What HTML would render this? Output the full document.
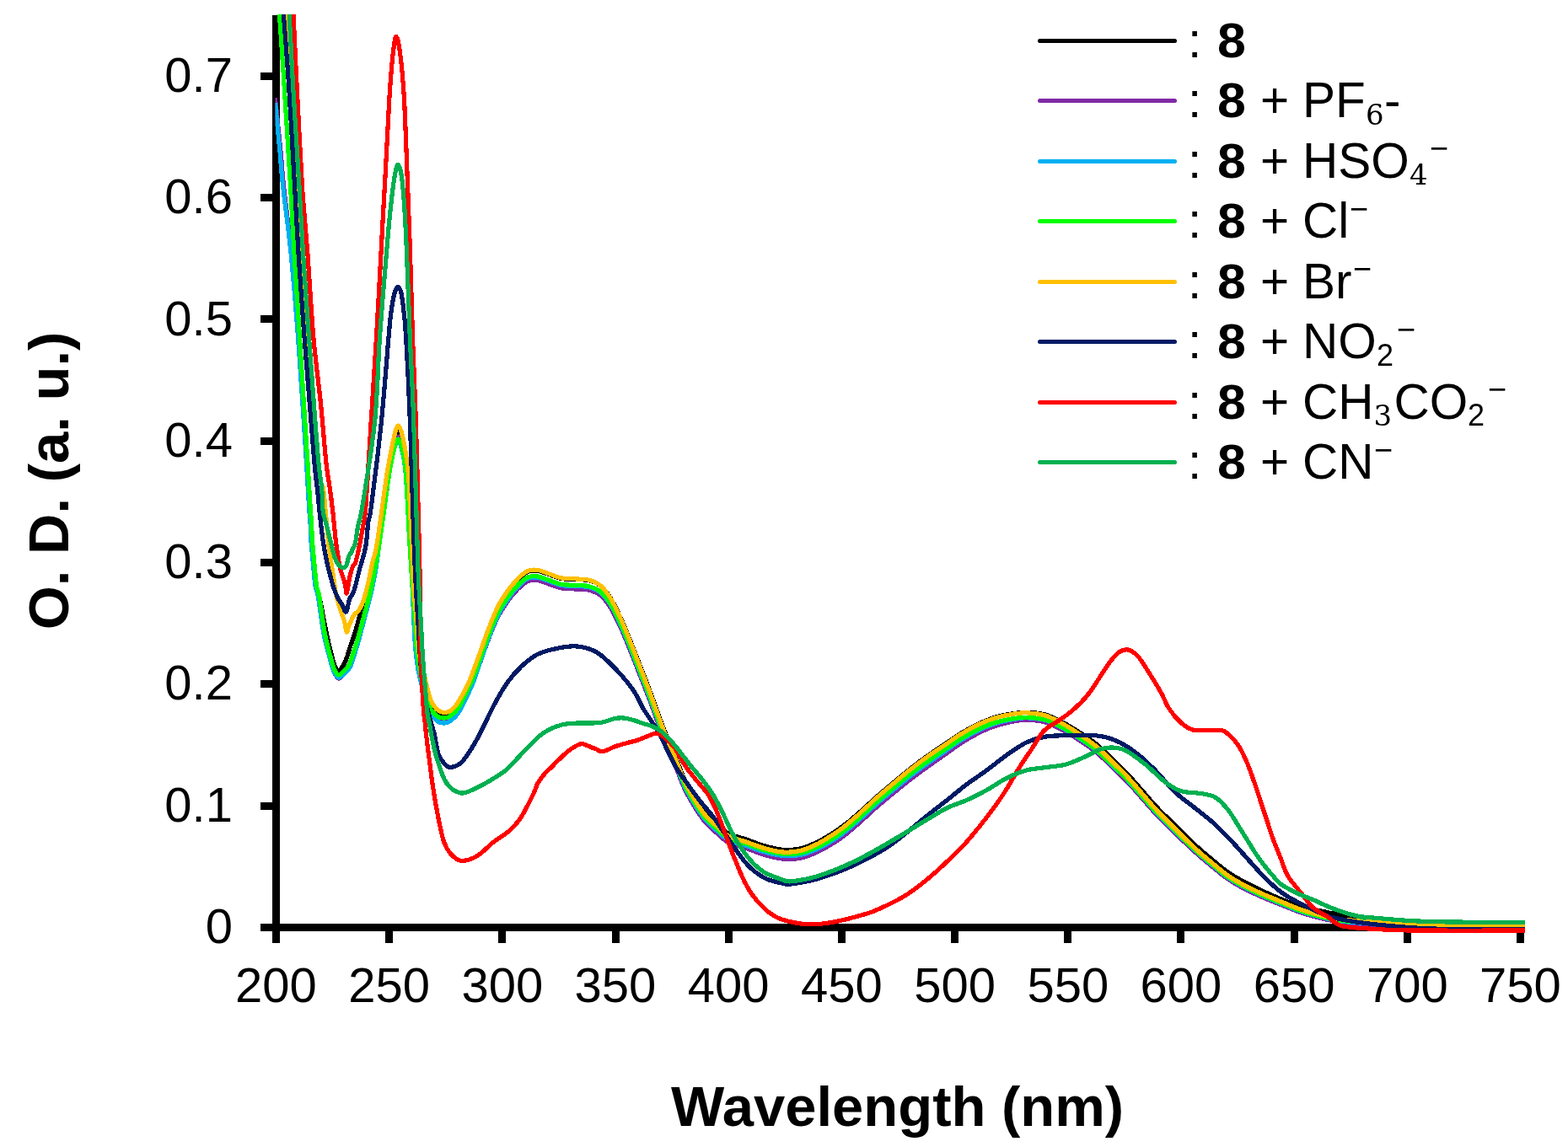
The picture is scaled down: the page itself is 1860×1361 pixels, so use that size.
<!DOCTYPE html>
<html><head><meta charset="utf-8"><title>UV-Vis spectra</title>
<style>html,body{margin:0;padding:0;background:#fff;}svg{display:block;}</style>
</head><body>
<svg width="1860" height="1361" viewBox="0 0 1860 1361">
<defs><clipPath id="plot"><rect x="326.5" y="17" width="1486" height="1110"/></clipPath></defs>
<rect width="1860" height="1361" fill="#fff"/>
<rect x="323" y="18" width="9" height="1101" fill="#000"/>
<rect x="309" y="1096" width="1499" height="9" fill="#000"/>
<rect x="309" y="952" width="15" height="9" fill="#000"/>
<rect x="309" y="807" width="15" height="9" fill="#000"/>
<rect x="309" y="663" width="15" height="9" fill="#000"/>
<rect x="309" y="519" width="15" height="9" fill="#000"/>
<rect x="309" y="374" width="15" height="9" fill="#000"/>
<rect x="309" y="230" width="15" height="9" fill="#000"/>
<rect x="309" y="86" width="15" height="9" fill="#000"/>
<rect x="457" y="1104" width="9" height="15" fill="#000"/>
<rect x="591" y="1104" width="9" height="15" fill="#000"/>
<rect x="726" y="1104" width="9" height="15" fill="#000"/>
<rect x="860" y="1104" width="9" height="15" fill="#000"/>
<rect x="994" y="1104" width="9" height="15" fill="#000"/>
<rect x="1128" y="1104" width="9" height="15" fill="#000"/>
<rect x="1262" y="1104" width="9" height="15" fill="#000"/>
<rect x="1396" y="1104" width="9" height="15" fill="#000"/>
<rect x="1531" y="1104" width="9" height="15" fill="#000"/>
<rect x="1665" y="1104" width="9" height="15" fill="#000"/>
<rect x="1799" y="1104" width="9" height="15" fill="#000"/>
<text x="276" y="1119.0" text-anchor="end" font-family="Liberation Sans, Arial, sans-serif" font-size="58" fill="#000">0</text>
<text x="276" y="974.7" text-anchor="end" font-family="Liberation Sans, Arial, sans-serif" font-size="58" fill="#000">0.1</text>
<text x="276" y="830.4" text-anchor="end" font-family="Liberation Sans, Arial, sans-serif" font-size="58" fill="#000">0.2</text>
<text x="276" y="686.1" text-anchor="end" font-family="Liberation Sans, Arial, sans-serif" font-size="58" fill="#000">0.3</text>
<text x="276" y="541.8" text-anchor="end" font-family="Liberation Sans, Arial, sans-serif" font-size="58" fill="#000">0.4</text>
<text x="276" y="397.5" text-anchor="end" font-family="Liberation Sans, Arial, sans-serif" font-size="58" fill="#000">0.5</text>
<text x="276" y="253.3" text-anchor="end" font-family="Liberation Sans, Arial, sans-serif" font-size="58" fill="#000">0.6</text>
<text x="276" y="109.0" text-anchor="end" font-family="Liberation Sans, Arial, sans-serif" font-size="58" fill="#000">0.7</text>
<text x="327.5" y="1189" text-anchor="middle" font-family="Liberation Sans, Arial, sans-serif" font-size="58" fill="#000">200</text>
<text x="461.7" y="1189" text-anchor="middle" font-family="Liberation Sans, Arial, sans-serif" font-size="58" fill="#000">250</text>
<text x="595.9" y="1189" text-anchor="middle" font-family="Liberation Sans, Arial, sans-serif" font-size="58" fill="#000">300</text>
<text x="730.0" y="1189" text-anchor="middle" font-family="Liberation Sans, Arial, sans-serif" font-size="58" fill="#000">350</text>
<text x="864.2" y="1189" text-anchor="middle" font-family="Liberation Sans, Arial, sans-serif" font-size="58" fill="#000">400</text>
<text x="998.4" y="1189" text-anchor="middle" font-family="Liberation Sans, Arial, sans-serif" font-size="58" fill="#000">450</text>
<text x="1132.6" y="1189" text-anchor="middle" font-family="Liberation Sans, Arial, sans-serif" font-size="58" fill="#000">500</text>
<text x="1266.8" y="1189" text-anchor="middle" font-family="Liberation Sans, Arial, sans-serif" font-size="58" fill="#000">550</text>
<text x="1400.9" y="1189" text-anchor="middle" font-family="Liberation Sans, Arial, sans-serif" font-size="58" fill="#000">600</text>
<text x="1535.1" y="1189" text-anchor="middle" font-family="Liberation Sans, Arial, sans-serif" font-size="58" fill="#000">650</text>
<text x="1669.3" y="1189" text-anchor="middle" font-family="Liberation Sans, Arial, sans-serif" font-size="58" fill="#000">700</text>
<text x="1803.5" y="1189" text-anchor="middle" font-family="Liberation Sans, Arial, sans-serif" font-size="58" fill="#000">750</text>
<text x="1064.5" y="1336" text-anchor="middle" font-family="Liberation Sans, Arial, sans-serif" font-size="67" font-weight="bold" fill="#000">Wavelength (nm)</text>
<text transform="translate(81,570.5) rotate(-90)" text-anchor="middle" font-family="Liberation Sans, Arial, sans-serif" font-size="67" font-weight="bold" fill="#000">O. D. (a. u.)</text>
<g clip-path="url(#plot)" shape-rendering="crispEdges" fill="none" stroke-width="5.2" stroke-linejoin="round" stroke-linecap="butt">
<path d="M331.0,10.0 C332.0,25.0 334.8,65.0 337.0,100.0 C339.2,135.0 342.5,186.7 344.5,220.0 C346.5,253.3 347.2,270.0 349.0,300.0 C350.8,330.0 353.6,370.0 355.5,400.0 C357.4,430.0 358.9,455.0 360.5,480.0 C362.1,505.0 363.8,530.0 365.0,550.0 C366.2,570.0 367.2,588.3 368.0,600.0 C368.8,611.7 369.1,613.0 369.5,620.0 C369.9,627.0 369.9,633.7 370.5,642.0 C371.1,650.3 372.2,661.2 373.0,670.0 C373.8,678.8 374.5,688.7 375.5,695.0 C376.5,701.3 376.8,698.5 378.8,708.0 C380.8,717.5 384.9,739.7 387.5,752.0 C390.1,764.3 392.8,775.3 394.5,782.0 C396.2,788.7 396.9,789.5 398.0,792.0 C399.1,794.5 399.7,796.8 400.9,797.0 C402.1,797.2 403.5,795.2 405.0,793.0 C406.5,790.8 408.2,788.3 410.0,784.0 C411.8,779.7 413.7,772.7 415.6,767.0 C417.5,761.3 419.2,757.2 421.3,750.0 C423.4,742.8 426.0,732.7 428.4,724.0 C430.8,715.3 433.3,706.7 435.4,698.0 C437.5,689.3 438.8,680.9 441.0,672.0 C443.2,663.1 446.7,655.4 448.8,644.4 C450.9,633.4 451.6,619.5 453.5,606.0 C455.4,592.5 457.9,576.2 460.0,563.5 C462.1,550.8 463.9,538.4 466.0,530.0 C468.1,521.6 470.5,513.0 472.4,513.0 C474.3,513.0 475.9,521.6 477.5,530.0 C479.1,538.4 480.4,545.7 481.8,563.5 C483.2,581.3 484.6,615.9 485.8,637.0 C487.0,658.1 487.8,672.8 489.0,690.0 C490.2,707.2 492.0,727.2 493.0,740.0 C494.0,752.8 494.2,758.5 495.0,766.5 C495.8,774.5 496.9,782.4 498.0,788.0 C499.1,793.6 500.3,795.8 501.5,800.0 C502.7,804.2 503.6,807.7 505.0,813.0 C506.4,818.3 507.7,826.5 510.0,832.0 C512.3,837.5 516.2,843.2 519.0,846.0 C521.8,848.8 524.3,848.7 527.0,848.5 C529.7,848.3 532.0,847.2 535.0,845.0 C538.0,842.8 540.8,842.0 545.0,835.0 C549.2,828.0 556.3,811.5 560.0,803.0 C563.7,794.5 563.9,792.9 567.0,784.2 C570.1,775.5 574.9,761.0 578.8,750.7 C582.7,740.4 586.6,730.2 590.5,722.2 C594.4,714.2 598.4,708.4 602.3,702.7 C606.2,697.1 610.1,692.3 614.0,688.2 C617.9,684.2 621.9,680.4 625.8,678.6 C629.7,676.7 633.3,676.8 637.6,677.3 C641.9,677.8 647.0,680.3 651.7,681.8 C656.4,683.3 660.3,685.5 665.8,686.5 C671.3,687.5 679.1,687.2 684.6,687.6 C690.1,688.0 694.0,687.4 698.7,688.7 C703.4,690.0 708.5,691.8 712.8,695.4 C717.1,699.0 720.7,703.9 724.6,710.2 C728.5,716.5 732.4,724.8 736.3,733.3 C740.2,741.8 744.1,751.5 748.0,761.2 C751.9,770.9 755.9,781.2 759.8,791.3 C763.7,801.4 767.7,811.3 771.6,821.8 C775.5,832.2 779.4,843.8 783.3,854.2 C787.2,864.6 791.9,876.4 795.0,884.1 C798.1,891.7 799.4,893.4 802.1,900.0 C804.8,906.6 808.1,916.4 811.4,923.7 C814.7,930.9 818.0,936.8 822.0,943.3 C826.0,949.9 830.8,957.6 835.2,963.1 C839.6,968.5 843.5,971.7 848.4,976.1 C853.2,980.5 858.2,985.9 864.3,989.2 C870.4,992.5 878.2,993.6 885.2,996.0 C892.2,998.4 899.4,1001.6 906.5,1003.6 C913.6,1005.6 920.7,1007.6 927.8,1008.2 C934.9,1008.7 942.0,1008.5 949.1,1007.0 C956.2,1005.4 963.3,1002.2 970.4,998.7 C977.5,995.3 985.9,989.8 991.7,986.0 C997.5,982.3 1000.3,980.0 1005.0,976.3 C1009.7,972.6 1014.2,968.7 1020.0,963.6 C1025.8,958.5 1033.3,951.3 1040.0,945.5 C1046.7,939.7 1053.3,934.1 1060.0,928.5 C1066.7,923.0 1073.3,917.3 1080.0,912.1 C1086.7,906.8 1093.3,901.8 1100.0,897.1 C1106.7,892.4 1113.3,888.1 1120.0,883.6 C1126.7,879.2 1133.3,874.2 1140.0,870.2 C1146.7,866.1 1153.3,862.4 1160.0,859.2 C1166.7,856.1 1173.3,853.4 1180.0,851.3 C1186.7,849.3 1193.7,847.9 1200.0,846.9 C1206.3,845.9 1210.8,845.1 1217.6,845.3 C1224.4,845.5 1233.2,845.9 1241.0,848.3 C1248.8,850.6 1256.8,855.1 1264.6,859.3 C1272.4,863.6 1281.7,869.7 1288.0,873.9 C1294.3,878.0 1297.2,879.9 1302.5,884.5 C1307.8,889.0 1314.3,895.8 1320.0,901.3 C1325.7,906.8 1331.2,911.9 1336.7,917.6 C1342.2,923.4 1347.3,929.5 1353.0,936.0 C1358.7,942.4 1365.0,950.0 1370.8,956.3 C1376.6,962.6 1382.3,967.9 1388.0,973.6 C1393.7,979.3 1399.3,985.0 1405.0,990.5 C1410.7,996.0 1416.3,1001.4 1422.0,1006.5 C1427.7,1011.6 1433.5,1016.3 1439.2,1021.0 C1444.9,1025.7 1450.3,1030.5 1456.0,1034.5 C1461.7,1038.5 1466.6,1041.3 1473.3,1045.0 C1480.0,1048.7 1488.4,1052.8 1496.0,1056.4 C1503.6,1060.0 1511.4,1063.4 1518.9,1066.5 C1526.4,1069.6 1533.4,1072.7 1541.0,1075.1 C1548.6,1077.4 1556.7,1078.9 1564.5,1080.5 C1572.3,1082.2 1579.4,1083.6 1588.0,1085.1 C1596.6,1086.6 1602.0,1087.9 1616.0,1089.5 C1630.0,1091.1 1654.7,1093.5 1672.0,1094.7 C1689.3,1095.9 1697.2,1096.0 1720.0,1096.5 C1742.8,1097.0 1794.2,1097.3 1809.0,1097.5" stroke="#000000"/>
<path d="M326.4,116.0 C327.5,126.7 331.3,162.7 333.0,180.0 C334.7,197.3 334.4,200.0 336.5,220.0 C338.6,240.0 342.7,270.0 345.5,300.0 C348.3,330.0 351.2,370.0 353.5,400.0 C355.8,430.0 357.8,455.0 359.5,480.0 C361.2,505.0 362.8,530.0 364.0,550.0 C365.2,570.0 366.2,588.3 367.0,600.0 C367.8,611.7 368.1,613.0 368.5,620.0 C368.9,627.0 368.9,633.7 369.5,642.0 C370.1,650.3 371.2,661.2 372.0,670.0 C372.8,678.8 373.6,688.7 374.5,695.0 C375.4,701.3 375.9,698.5 377.5,708.0 C379.1,717.5 381.7,739.7 384.0,752.0 C386.3,764.3 389.5,774.5 391.5,782.0 C393.5,789.5 394.2,793.2 396.0,797.0 C397.8,800.8 400.0,804.5 402.0,805.0 C404.0,805.5 405.8,802.3 408.0,800.0 C410.2,797.7 413.0,794.8 415.0,791.0 C417.0,787.2 418.2,782.8 420.0,777.0 C421.8,771.2 423.8,764.0 426.0,756.0 C428.2,748.0 430.7,738.0 433.0,729.0 C435.3,720.0 437.9,710.9 440.0,702.0 C442.1,693.1 443.7,684.3 445.3,675.5 C446.9,666.7 447.9,659.9 449.5,649.0 C451.1,638.1 453.0,624.2 455.0,610.0 C457.0,595.8 459.5,576.3 461.5,563.5 C463.5,550.7 465.2,540.6 467.0,533.0 C468.8,525.4 470.6,518.0 472.4,518.0 C474.1,518.0 476.0,525.2 477.5,533.0 C479.0,540.8 480.2,547.5 481.5,565.0 C482.8,582.5 484.3,617.0 485.5,638.0 C486.7,659.0 487.9,674.0 488.8,691.0 C489.8,708.0 490.6,727.4 491.2,740.0 C491.8,752.6 491.9,757.8 492.7,766.5 C493.4,775.2 494.6,785.1 495.7,792.0 C496.8,798.9 497.9,802.8 499.2,808.0 C500.4,813.2 501.4,816.7 503.2,823.0 C505.0,829.3 507.4,840.7 510.0,846.0 C512.6,851.3 516.2,853.2 519.0,855.0 C521.8,856.8 524.3,857.2 527.0,857.0 C529.7,856.8 532.0,856.3 535.0,854.0 C538.0,851.7 540.8,850.0 545.0,843.0 C549.2,836.0 556.3,820.3 560.0,812.0 C563.7,803.7 563.9,802.1 567.0,793.5 C570.1,784.9 574.9,770.6 578.8,760.4 C582.7,750.3 586.6,740.2 590.5,732.4 C594.4,724.5 598.4,718.9 602.3,713.3 C606.2,707.8 610.1,703.2 614.0,699.3 C617.9,695.4 621.9,691.6 625.8,689.9 C629.7,688.1 633.3,688.1 637.6,688.6 C641.9,689.2 647.0,691.6 651.7,693.2 C656.4,694.7 660.3,696.9 665.8,697.9 C671.3,698.9 679.1,698.7 684.6,699.1 C690.1,699.4 694.0,698.9 698.7,700.2 C703.4,701.5 708.5,703.3 712.8,706.9 C717.1,710.5 720.7,715.4 724.6,721.8 C728.5,728.1 732.4,736.4 736.3,744.9 C740.2,753.4 744.1,763.2 748.0,772.9 C751.9,782.5 755.9,792.9 759.8,803.0 C763.7,813.1 767.7,822.8 771.6,833.3 C775.5,843.7 779.4,855.2 783.3,865.5 C787.2,875.8 791.9,887.6 795.0,895.1 C798.1,902.7 799.4,904.4 802.1,911.0 C804.8,917.5 808.1,927.4 811.4,934.6 C814.7,941.8 818.0,947.6 822.0,954.2 C826.0,960.7 830.8,968.4 835.2,973.8 C839.6,979.3 843.5,982.5 848.4,986.8 C853.2,991.1 858.2,996.5 864.3,999.8 C870.4,1003.1 878.2,1004.1 885.2,1006.6 C892.2,1009.0 899.4,1012.2 906.5,1014.3 C913.6,1016.3 920.7,1018.3 927.8,1019.0 C934.9,1019.6 942.0,1019.7 949.1,1018.3 C956.2,1016.9 963.3,1013.9 970.4,1010.6 C977.5,1007.3 985.9,1002.1 991.7,998.4 C997.5,994.8 1000.3,992.4 1005.0,988.6 C1009.7,984.9 1014.2,981.0 1020.0,975.8 C1025.8,970.7 1033.3,963.4 1040.0,957.6 C1046.7,951.8 1053.3,946.4 1060.0,940.9 C1066.7,935.4 1073.3,929.9 1080.0,924.7 C1086.7,919.6 1093.3,914.8 1100.0,910.0 C1106.7,905.2 1113.3,900.6 1120.0,895.9 C1126.7,891.2 1133.3,886.1 1140.0,881.8 C1146.7,877.5 1153.3,873.6 1160.0,870.2 C1166.7,866.9 1173.3,863.9 1180.0,861.6 C1186.7,859.3 1193.7,857.8 1200.0,856.5 C1206.3,855.3 1210.8,854.2 1217.6,854.3 C1224.4,854.4 1233.2,855.0 1241.0,857.3 C1248.8,859.7 1256.8,864.2 1264.6,868.6 C1272.4,872.9 1281.7,879.2 1288.0,883.5 C1294.3,887.8 1297.2,889.7 1302.5,894.3 C1307.8,898.9 1314.3,905.5 1320.0,911.0 C1325.7,916.5 1331.2,921.4 1336.7,927.1 C1342.2,932.9 1347.3,938.9 1353.0,945.3 C1358.7,951.7 1365.0,959.3 1370.8,965.5 C1376.6,971.7 1382.3,977.0 1388.0,982.6 C1393.7,988.3 1399.3,993.9 1405.0,999.3 C1410.7,1004.7 1416.3,1010.0 1422.0,1015.0 C1427.7,1020.0 1433.5,1024.7 1439.2,1029.4 C1444.9,1034.0 1450.3,1038.8 1456.0,1042.7 C1461.7,1046.7 1466.6,1049.6 1473.3,1053.1 C1480.0,1056.7 1488.4,1060.6 1496.0,1064.0 C1503.6,1067.3 1511.4,1070.3 1518.9,1073.3 C1526.4,1076.3 1533.4,1079.5 1541.0,1082.1 C1548.6,1084.8 1556.7,1087.0 1564.5,1089.0 C1572.3,1091.0 1579.4,1092.7 1588.0,1093.9 C1596.6,1095.2 1602.0,1095.3 1616.0,1096.4 C1630.0,1097.5 1654.7,1099.6 1672.0,1100.5 C1689.3,1101.4 1697.2,1101.3 1720.0,1101.7 C1742.8,1102.0 1794.2,1102.4 1809.0,1102.5" stroke="#802AA6"/>
<path d="M326.5,122.0 C327.4,131.7 330.5,163.7 332.0,180.0 C333.5,196.3 333.3,200.0 335.5,220.0 C337.7,240.0 342.0,270.0 345.0,300.0 C348.0,330.0 351.2,370.0 353.5,400.0 C355.8,430.0 357.3,455.0 359.0,480.0 C360.7,505.0 362.2,530.0 363.5,550.0 C364.8,570.0 365.8,588.3 366.5,600.0 C367.2,611.7 367.6,613.0 368.0,620.0 C368.4,627.0 368.4,633.7 369.0,642.0 C369.6,650.3 370.7,661.2 371.5,670.0 C372.3,678.8 373.0,688.7 374.0,695.0 C375.0,701.3 375.6,698.5 377.3,708.0 C379.0,717.5 381.6,739.7 384.0,752.0 C386.4,764.3 389.6,774.7 391.5,782.0 C393.4,789.3 393.8,792.3 395.5,796.0 C397.2,799.7 399.6,803.3 401.6,804.0 C403.6,804.7 405.3,802.0 407.5,800.0 C409.7,798.0 412.9,795.7 415.0,792.0 C417.1,788.3 418.1,783.8 420.0,778.0 C421.9,772.2 424.1,765.0 426.3,757.0 C428.5,749.0 431.0,739.0 433.4,730.0 C435.8,721.0 438.3,712.0 440.4,703.0 C442.4,694.0 444.2,685.0 445.7,676.0 C447.2,667.0 447.9,659.8 449.5,648.8 C451.1,637.8 453.0,624.2 455.0,610.0 C457.0,595.8 459.5,576.0 461.5,563.5 C463.5,551.0 465.2,541.8 467.0,535.0 C468.8,528.2 470.6,522.7 472.4,523.0 C474.1,523.3 476.0,530.0 477.5,537.0 C479.0,544.0 480.2,548.2 481.5,565.0 C482.8,581.8 484.3,617.0 485.5,638.0 C486.7,659.0 487.9,674.0 488.8,691.0 C489.7,708.0 490.4,727.4 491.0,740.0 C491.6,752.6 491.8,757.8 492.5,766.5 C493.2,775.2 494.4,785.1 495.5,792.0 C496.6,798.9 497.8,802.8 499.0,808.0 C500.2,813.2 501.2,816.8 503.0,823.0 C504.8,829.2 507.3,839.5 510.0,845.0 C512.7,850.5 516.2,853.8 519.0,856.0 C521.8,858.2 524.3,858.2 527.0,858.0 C529.7,857.8 532.0,857.3 535.0,855.0 C538.0,852.7 540.8,851.0 545.0,844.0 C549.2,837.0 556.3,821.4 560.0,813.0 C563.7,804.6 563.9,802.4 567.0,793.5 C570.1,784.7 574.9,770.2 578.8,759.7 C582.7,749.3 586.6,739.1 590.5,731.0 C594.4,722.9 598.4,716.9 602.3,711.2 C606.2,705.4 610.1,700.5 614.0,696.4 C617.9,692.3 621.9,688.4 625.8,686.6 C629.7,684.7 633.3,684.8 637.6,685.3 C641.9,685.8 647.0,688.3 651.7,689.8 C656.4,691.3 660.3,693.5 665.8,694.5 C671.3,695.5 679.1,695.2 684.6,695.6 C690.1,696.0 694.0,695.4 698.7,696.7 C703.4,698.0 708.5,699.9 712.8,703.5 C717.1,707.1 720.7,712.0 724.6,718.4 C728.5,724.7 732.4,733.1 736.3,741.6 C740.2,750.1 744.1,759.9 748.0,769.6 C751.9,779.3 755.9,789.7 759.8,799.8 C763.7,809.9 767.7,819.7 771.6,830.1 C775.5,840.5 779.4,852.1 783.3,862.4 C787.2,872.8 791.9,884.5 795.0,892.1 C798.1,899.7 799.4,901.4 802.1,908.0 C804.8,914.5 808.1,924.4 811.4,931.6 C814.7,938.8 818.0,944.6 822.0,951.2 C826.0,957.7 830.8,965.4 835.2,970.8 C839.6,976.3 843.5,979.5 848.4,983.8 C853.2,988.1 858.2,993.5 864.3,996.8 C870.4,1000.1 878.2,1001.1 885.2,1003.5 C892.2,1005.8 899.4,1008.9 906.5,1010.8 C913.6,1012.8 920.7,1014.6 927.8,1015.2 C934.9,1015.8 942.0,1015.9 949.1,1014.5 C956.2,1013.2 963.3,1010.2 970.4,1007.0 C977.5,1003.7 985.9,998.5 991.7,994.8 C997.5,991.2 1000.3,988.7 1005.0,985.0 C1009.7,981.2 1014.2,977.3 1020.0,972.1 C1025.8,966.9 1033.3,959.7 1040.0,953.8 C1046.7,948.0 1053.3,942.6 1060.0,937.1 C1066.7,931.6 1073.3,926.0 1080.0,920.8 C1086.7,915.6 1093.3,910.8 1100.0,906.0 C1106.7,901.2 1113.3,896.8 1120.0,892.2 C1126.7,887.5 1133.3,882.5 1140.0,878.3 C1146.7,874.1 1153.3,870.3 1160.0,867.0 C1166.7,863.7 1173.3,860.8 1180.0,858.6 C1186.7,856.4 1193.7,854.9 1200.0,853.8 C1206.3,852.7 1210.8,851.6 1217.6,851.8 C1224.4,852.0 1233.2,852.5 1241.0,854.9 C1248.8,857.3 1256.8,861.8 1264.6,866.2 C1272.4,870.6 1281.7,876.9 1288.0,881.2 C1294.3,885.5 1297.2,887.4 1302.5,892.0 C1307.8,896.6 1314.3,903.2 1320.0,908.7 C1325.7,914.2 1331.2,919.2 1336.7,924.9 C1342.2,930.7 1347.3,936.8 1353.0,943.2 C1358.7,949.6 1365.0,957.1 1370.8,963.4 C1376.6,969.6 1382.3,974.9 1388.0,980.6 C1393.7,986.2 1399.3,991.9 1405.0,997.3 C1410.7,1002.7 1416.3,1008.0 1422.0,1013.0 C1427.7,1018.0 1433.5,1022.8 1439.2,1027.5 C1444.9,1032.1 1450.3,1037.0 1456.0,1041.0 C1461.7,1044.9 1466.6,1047.9 1473.3,1051.4 C1480.0,1055.0 1488.4,1059.0 1496.0,1062.4 C1503.6,1065.8 1511.4,1068.8 1518.9,1071.9 C1526.4,1074.9 1533.4,1078.2 1541.0,1080.8 C1548.6,1083.5 1556.7,1085.8 1564.5,1087.8 C1572.3,1089.8 1579.4,1091.5 1588.0,1092.8 C1596.6,1094.0 1602.0,1094.2 1616.0,1095.2 C1630.0,1096.3 1654.7,1098.5 1672.0,1099.4 C1689.3,1100.3 1697.2,1100.3 1720.0,1100.6 C1742.8,1101.0 1794.2,1101.4 1809.0,1101.5" stroke="#00B0F0"/>
<path d="M331.0,10.0 C332.0,25.0 334.8,65.0 337.0,100.0 C339.2,135.0 342.5,186.7 344.5,220.0 C346.5,253.3 347.2,270.0 349.0,300.0 C350.8,330.0 353.6,370.0 355.5,400.0 C357.4,430.0 358.9,455.0 360.5,480.0 C362.1,505.0 363.8,530.0 365.0,550.0 C366.2,570.0 367.2,588.3 368.0,600.0 C368.8,611.7 369.1,613.0 369.5,620.0 C369.9,627.0 369.9,633.7 370.5,642.0 C371.1,650.3 372.2,661.2 373.0,670.0 C373.8,678.8 374.5,688.7 375.5,695.0 C376.5,701.3 377.2,698.5 378.8,708.0 C380.4,717.5 383.1,739.7 385.4,752.0 C387.7,764.3 390.9,774.8 392.8,782.0 C394.7,789.2 395.5,791.8 397.0,795.0 C398.5,798.2 399.9,800.7 401.6,801.0 C403.3,801.3 404.9,799.0 407.0,797.0 C409.1,795.0 412.0,792.7 414.0,789.0 C416.0,785.3 417.1,780.7 419.0,775.0 C420.9,769.3 423.1,762.5 425.3,754.7 C427.5,746.9 430.0,737.1 432.4,728.3 C434.8,719.5 437.3,710.6 439.4,701.8 C441.4,693.0 443.0,684.1 444.7,675.3 C446.4,666.5 447.8,659.7 449.5,648.8 C451.2,637.9 453.0,624.2 455.0,610.0 C457.0,595.8 459.5,576.0 461.5,563.5 C463.5,551.0 465.2,542.1 467.0,535.0 C468.8,527.9 470.6,521.0 472.4,521.0 C474.1,521.0 476.0,527.9 477.5,535.0 C479.0,542.1 480.2,546.5 481.5,563.5 C482.8,580.5 484.3,615.9 485.5,637.0 C486.7,658.1 487.6,672.8 488.8,690.0 C490.0,707.2 491.6,727.2 492.5,740.0 C493.4,752.8 493.2,758.2 494.0,766.5 C494.8,774.8 496.0,783.6 497.0,790.0 C498.0,796.4 498.8,800.0 500.0,805.0 C501.2,810.0 502.3,814.2 504.0,820.0 C505.7,825.8 507.5,835.0 510.0,840.0 C512.5,845.0 516.2,848.0 519.0,850.0 C521.8,852.0 524.3,852.2 527.0,852.0 C529.7,851.8 532.0,851.3 535.0,849.0 C538.0,846.7 540.8,845.0 545.0,838.0 C549.2,831.0 556.3,815.2 560.0,807.0 C563.7,798.8 563.9,797.1 567.0,788.5 C570.1,779.9 574.9,765.7 578.8,755.5 C582.7,745.3 586.6,735.3 590.5,727.5 C594.4,719.7 598.4,714.0 602.3,708.5 C606.2,703.0 610.1,698.4 614.0,694.5 C617.9,690.6 621.9,686.9 625.8,685.1 C629.7,683.3 633.3,683.3 637.6,683.9 C641.9,684.5 647.0,686.9 651.7,688.5 C656.4,690.1 660.3,692.3 665.8,693.3 C671.3,694.3 679.1,694.1 684.6,694.5 C690.1,694.9 694.0,694.4 698.7,695.7 C703.4,697.0 708.5,698.8 712.8,702.4 C717.1,705.9 720.7,710.8 724.6,717.1 C728.5,723.5 732.4,731.7 736.3,740.2 C740.2,748.7 744.1,758.5 748.0,768.1 C751.9,777.8 755.9,788.2 759.8,798.2 C763.7,808.3 767.7,818.0 771.6,828.4 C775.5,838.8 779.4,850.3 783.3,860.6 C787.2,870.9 791.9,882.6 795.0,890.2 C798.1,897.7 799.4,899.4 802.1,906.0 C804.8,912.5 808.1,922.4 811.4,929.6 C814.7,936.8 818.0,942.6 822.0,949.1 C826.0,955.7 830.8,963.3 835.2,968.8 C839.6,974.2 843.5,977.4 848.4,981.7 C853.2,986.0 858.2,991.4 864.3,994.6 C870.4,997.9 878.2,998.9 885.2,1001.3 C892.2,1003.6 899.4,1006.7 906.5,1008.7 C913.6,1010.7 920.7,1012.5 927.8,1013.1 C934.9,1013.7 942.0,1013.8 949.1,1012.4 C956.2,1011.0 963.3,1008.0 970.4,1004.7 C977.5,1001.4 985.9,996.2 991.7,992.5 C997.5,988.8 1000.3,986.4 1005.0,982.6 C1009.7,978.8 1014.2,975.0 1020.0,969.8 C1025.8,964.6 1033.3,957.3 1040.0,951.5 C1046.7,945.6 1053.3,940.2 1060.0,934.6 C1066.7,929.1 1073.3,923.5 1080.0,918.3 C1086.7,913.1 1093.3,908.2 1100.0,903.5 C1106.7,898.8 1113.3,894.5 1120.0,890.0 C1126.7,885.5 1133.3,880.6 1140.0,876.5 C1146.7,872.4 1153.3,868.7 1160.0,865.5 C1166.7,862.3 1173.3,859.6 1180.0,857.5 C1186.7,855.4 1193.7,854.0 1200.0,853.0 C1206.3,852.0 1210.8,851.1 1217.6,851.3 C1224.4,851.5 1233.2,852.0 1241.0,854.4 C1248.8,856.8 1256.8,861.3 1264.6,865.6 C1272.4,870.0 1281.7,876.3 1288.0,880.6 C1294.3,884.9 1297.2,886.9 1302.5,891.5 C1307.8,896.0 1314.3,902.7 1320.0,908.2 C1325.7,913.7 1331.2,918.6 1336.7,924.4 C1342.2,930.1 1347.3,936.2 1353.0,942.6 C1358.7,949.0 1365.0,956.6 1370.8,962.8 C1376.6,969.1 1382.3,974.4 1388.0,980.0 C1393.7,985.7 1399.3,991.3 1405.0,996.8 C1410.7,1002.2 1416.3,1007.5 1422.0,1012.5 C1427.7,1017.5 1433.5,1022.3 1439.2,1026.9 C1444.9,1031.6 1450.3,1036.4 1456.0,1040.4 C1461.7,1044.4 1466.6,1047.3 1473.3,1050.9 C1480.0,1054.4 1488.4,1058.4 1496.0,1061.8 C1503.6,1065.2 1511.4,1068.2 1518.9,1071.2 C1526.4,1074.3 1533.4,1077.5 1541.0,1080.2 C1548.6,1082.8 1556.7,1085.1 1564.5,1087.1 C1572.3,1089.1 1579.4,1090.8 1588.0,1092.0 C1596.6,1093.3 1602.0,1093.4 1616.0,1094.5 C1630.0,1095.5 1654.7,1097.7 1672.0,1098.5 C1689.3,1099.4 1697.2,1099.4 1720.0,1099.7 C1742.8,1100.0 1794.2,1100.4 1809.0,1100.5" stroke="#00FF00"/>
<path d="M339.5,10.0 C340.2,25.0 342.0,65.0 344.0,100.0 C346.0,135.0 349.5,186.7 351.5,220.0 C353.5,253.3 353.9,270.0 356.0,300.0 C358.1,330.0 361.5,370.0 364.0,400.0 C366.5,430.0 369.0,456.7 371.0,480.0 C373.0,503.3 374.5,525.0 376.0,540.0 C377.5,555.0 378.8,563.3 380.0,570.0 C381.2,576.7 382.4,573.3 383.5,580.0 C384.6,586.7 385.5,599.7 386.5,610.0 C387.5,620.3 388.6,634.0 389.4,642.0 C390.2,650.0 390.4,651.4 391.3,657.7 C392.2,664.0 393.6,671.6 394.8,679.7 C396.1,687.8 397.3,698.9 398.8,706.2 C400.3,713.6 402.3,718.7 403.9,723.8 C405.5,728.9 407.3,732.6 408.5,737.0 C409.7,741.4 410.3,749.2 411.2,750.0 C412.1,750.8 413.1,744.2 414.0,742.0 C414.9,739.8 415.7,738.8 416.5,737.0 C417.3,735.2 418.2,732.5 419.0,731.0 C419.8,729.5 420.5,729.0 421.5,728.0 C422.5,727.0 423.5,727.2 425.0,725.0 C426.5,722.8 428.4,720.3 430.3,715.0 C432.2,709.7 434.4,701.1 436.4,693.0 C438.3,684.9 440.2,674.6 442.0,666.5 C443.8,658.4 444.5,661.6 447.3,644.4 C450.1,627.2 455.9,582.6 458.8,563.5 C461.8,544.4 463.3,538.6 465.0,530.0 C466.7,521.4 467.8,516.2 469.0,512.0 C470.2,507.8 471.2,505.0 472.4,505.0 C473.6,505.0 474.7,507.8 476.0,512.0 C477.3,516.2 478.6,521.4 480.0,530.0 C481.4,538.6 483.2,545.7 484.5,563.5 C485.8,581.3 487.0,615.9 488.0,637.0 C489.0,658.1 489.2,672.8 490.3,690.0 C491.4,707.2 493.4,727.2 494.3,740.0 C495.2,752.8 495.2,759.0 496.0,766.5 C496.8,774.0 498.0,780.2 499.0,785.0 C500.0,789.8 500.9,790.8 502.0,795.0 C503.1,799.2 504.2,805.0 505.5,810.5 C506.8,816.0 508.4,823.4 510.0,828.0 C511.6,832.6 513.3,835.5 515.0,838.0 C516.7,840.5 518.0,841.8 520.0,843.0 C522.0,844.2 524.5,845.5 527.0,845.5 C529.5,845.5 532.2,845.1 535.0,843.0 C537.8,840.9 540.1,838.2 543.5,833.0 C546.9,827.8 551.4,820.3 555.3,811.6 C559.2,802.9 563.1,791.6 567.0,781.0 C570.9,770.4 574.9,758.2 578.8,748.0 C582.7,737.8 586.6,727.8 590.5,720.0 C594.4,712.2 598.4,706.5 602.3,701.0 C606.2,695.5 610.1,690.9 614.0,687.0 C617.9,683.1 621.9,679.4 625.8,677.6 C629.7,675.8 633.3,675.8 637.6,676.4 C641.9,677.0 647.0,679.4 651.7,681.0 C656.4,682.6 660.3,684.8 665.8,685.8 C671.3,686.8 679.1,686.6 684.6,687.0 C690.1,687.4 694.0,686.8 698.7,688.2 C703.4,689.6 708.5,691.6 712.8,695.3 C717.1,699.0 720.7,704.0 724.6,710.5 C728.5,717.0 732.4,725.4 736.3,734.0 C740.2,742.6 744.1,752.5 748.0,762.3 C751.9,772.1 755.9,782.6 759.8,792.8 C763.7,803.0 767.7,812.9 771.6,823.4 C775.5,833.9 779.4,845.6 783.3,856.0 C787.2,866.4 791.9,878.3 795.0,886.0 C798.1,893.7 799.4,895.4 802.1,902.0 C804.8,908.6 808.1,918.5 811.4,925.8 C814.7,933.1 818.0,939.0 822.0,945.6 C826.0,952.2 830.8,960.0 835.2,965.5 C839.6,971.0 843.5,974.3 848.4,978.7 C853.2,983.1 858.2,988.6 864.3,992.0 C870.4,995.4 878.2,996.6 885.2,999.0 C892.2,1001.4 899.4,1004.5 906.5,1006.5 C913.6,1008.5 920.7,1010.5 927.8,1011.0 C934.9,1011.5 942.0,1011.2 949.1,1009.5 C956.2,1007.8 963.3,1004.6 970.4,1001.0 C977.5,997.4 985.9,991.8 991.7,988.0 C997.5,984.2 1000.3,981.8 1005.0,978.0 C1009.7,974.2 1014.2,970.2 1020.0,965.0 C1025.8,959.8 1033.3,952.4 1040.0,946.5 C1046.7,940.6 1053.3,935.1 1060.0,929.5 C1066.7,923.9 1073.3,918.2 1080.0,913.0 C1086.7,907.8 1093.3,902.8 1100.0,898.0 C1106.7,893.2 1113.3,889.0 1120.0,884.5 C1126.7,880.0 1133.3,875.1 1140.0,871.0 C1146.7,866.9 1153.3,863.2 1160.0,860.0 C1166.7,856.8 1173.3,854.1 1180.0,852.0 C1186.7,849.9 1193.7,848.5 1200.0,847.5 C1206.3,846.5 1210.8,845.5 1217.6,845.8 C1224.4,846.1 1233.2,846.8 1241.0,849.3 C1248.8,851.8 1256.8,856.5 1264.6,861.0 C1272.4,865.5 1281.7,872.0 1288.0,876.4 C1294.3,880.8 1297.2,882.8 1302.5,887.5 C1307.8,892.2 1314.3,898.9 1320.0,904.5 C1325.7,910.1 1331.2,915.2 1336.7,921.0 C1342.2,926.8 1347.3,933.0 1353.0,939.5 C1358.7,946.0 1365.0,953.7 1370.8,960.0 C1376.6,966.3 1382.3,971.8 1388.0,977.5 C1393.7,983.2 1399.3,989.0 1405.0,994.5 C1410.7,1000.0 1416.3,1005.4 1422.0,1010.5 C1427.7,1015.6 1433.5,1020.3 1439.2,1025.0 C1444.9,1029.7 1450.3,1034.5 1456.0,1038.5 C1461.7,1042.5 1466.6,1045.4 1473.3,1049.0 C1480.0,1052.6 1488.4,1056.6 1496.0,1060.0 C1503.6,1063.4 1511.4,1066.4 1518.9,1069.5 C1526.4,1072.6 1533.4,1075.8 1541.0,1078.5 C1548.6,1081.2 1556.7,1083.5 1564.5,1085.5 C1572.3,1087.5 1579.4,1089.2 1588.0,1090.5 C1596.6,1091.8 1602.0,1091.9 1616.0,1093.0 C1630.0,1094.1 1654.7,1096.3 1672.0,1097.2 C1689.3,1098.1 1697.2,1098.1 1720.0,1098.5 C1742.8,1098.9 1794.2,1099.3 1809.0,1099.5" stroke="#FFC000"/>
<path d="M335.8,10.0 C336.9,25.0 340.2,65.0 342.5,100.0 C344.8,135.0 347.6,186.7 349.5,220.0 C351.4,253.3 352.1,270.0 354.0,300.0 C355.9,330.0 358.8,370.0 361.0,400.0 C363.2,430.0 365.4,455.0 367.4,480.0 C369.4,505.0 371.5,533.3 373.0,550.0 C374.5,566.7 375.4,570.6 376.4,580.0 C377.4,589.4 377.9,596.2 379.0,606.5 C380.1,616.8 381.7,631.8 383.2,642.0 C384.7,652.2 386.7,661.7 388.0,668.0 C389.3,674.3 389.7,675.0 391.0,680.0 C392.3,685.0 394.3,693.0 396.0,698.0 C397.7,703.0 399.3,706.7 401.0,710.0 C402.7,713.3 404.4,715.3 406.0,718.0 C407.6,720.7 409.2,727.2 410.7,726.0 C412.1,724.8 413.2,714.6 414.7,710.6 C416.2,706.6 417.6,707.7 419.6,701.8 C421.6,695.9 424.2,684.1 426.6,675.3 C429.0,666.5 432.0,658.0 433.7,648.8 C435.4,639.6 435.7,628.1 436.8,620.0 C437.9,611.9 437.9,620.0 440.5,600.0 C443.1,580.0 449.0,533.3 452.4,500.0 C455.8,466.7 459.1,421.7 461.0,400.0 C462.9,378.3 462.8,378.7 464.0,370.0 C465.2,361.3 466.6,352.9 468.0,348.0 C469.4,343.1 470.9,340.5 472.2,340.5 C473.5,340.5 474.9,343.1 476.0,348.0 C477.1,352.9 478.1,361.3 479.0,370.0 C479.9,378.7 480.4,380.0 481.6,400.0 C482.8,420.0 484.5,450.5 486.0,490.0 C487.5,529.5 489.6,603.7 490.8,637.0 C492.0,670.3 492.1,672.8 493.0,690.0 C493.9,707.2 495.2,727.2 496.0,740.0 C496.8,752.8 496.9,757.3 497.5,766.5 C498.1,775.7 498.8,786.9 499.5,795.0 C500.2,803.1 501.0,808.3 502.0,815.0 C503.0,821.7 503.9,828.0 505.5,835.0 C507.1,842.0 509.7,851.2 511.3,857.0 C512.9,862.8 513.5,863.8 515.0,870.0 C516.5,876.2 518.0,888.5 520.0,894.5 C522.0,900.5 524.6,903.3 527.0,906.0 C529.4,908.7 530.8,910.9 534.4,910.5 C538.0,910.1 543.1,909.4 548.5,903.5 C553.9,897.6 560.8,886.1 567.0,875.0 C573.2,863.9 579.9,848.0 585.8,837.0 C591.7,826.0 596.8,817.0 602.3,809.3 C607.8,801.5 612.9,796.0 618.8,790.5 C624.7,785.0 630.6,779.9 637.6,776.4 C644.6,772.9 653.2,770.9 661.0,769.3 C668.8,767.7 676.8,766.2 684.6,767.0 C692.4,767.8 700.2,769.3 708.0,774.0 C715.8,778.7 724.3,787.5 731.6,795.2 C738.9,802.9 746.8,812.5 751.9,820.0 C757.0,827.5 759.0,834.0 762.5,840.0 C766.0,846.0 769.5,850.5 773.0,856.0 C776.5,861.5 780.3,866.8 783.6,873.0 C786.9,879.2 789.6,886.3 792.9,893.0 C796.2,899.7 799.8,906.8 803.5,913.0 C807.2,919.2 811.0,923.8 815.4,930.0 C819.8,936.2 824.9,943.5 830.0,950.0 C835.1,956.5 841.0,962.7 845.8,969.0 C850.6,975.3 852.4,978.8 859.0,988.0 C865.6,997.2 877.3,1015.6 885.2,1024.5 C893.1,1033.4 899.4,1037.7 906.5,1041.6 C913.6,1045.5 922.5,1046.8 927.8,1048.0 C933.1,1049.2 931.4,1049.9 938.5,1049.0 C945.6,1048.1 958.0,1046.3 970.4,1042.6 C982.8,1038.9 998.8,1033.2 1013.0,1026.6 C1027.2,1020.0 1041.4,1012.8 1055.6,1003.2 C1069.8,993.6 1087.0,978.0 1098.3,969.0 C1109.6,960.0 1115.4,955.7 1123.5,949.3 C1131.6,942.9 1139.2,936.4 1147.0,930.5 C1154.8,924.6 1162.7,919.8 1170.5,914.0 C1178.3,908.2 1186.2,901.5 1194.0,896.0 C1201.8,890.5 1209.8,884.7 1217.6,881.0 C1225.4,877.3 1233.2,875.4 1241.0,874.0 C1248.8,872.6 1254.8,873.0 1264.6,872.8 C1274.4,872.6 1290.1,871.8 1299.9,872.8 C1309.7,873.8 1315.6,875.4 1323.4,878.7 C1331.2,882.0 1339.1,886.9 1346.9,892.8 C1354.7,898.7 1362.6,906.1 1370.4,914.0 C1378.2,921.9 1386.1,932.4 1393.9,939.9 C1401.7,947.4 1409.8,952.5 1417.4,958.7 C1425.1,964.9 1432.8,970.6 1439.8,976.9 C1446.8,983.2 1453.1,989.8 1459.7,996.7 C1466.3,1003.7 1472.9,1011.3 1479.5,1018.6 C1486.1,1025.9 1492.8,1033.8 1499.4,1040.4 C1506.0,1047.0 1512.6,1053.3 1519.2,1058.3 C1525.8,1063.3 1532.4,1066.6 1539.0,1070.2 C1545.6,1073.8 1552.3,1077.0 1558.9,1080.0 C1565.5,1083.0 1569.2,1085.5 1578.7,1088.0 C1588.2,1090.5 1600.5,1092.9 1616.0,1095.0 C1631.5,1097.1 1654.7,1099.2 1672.0,1100.5 C1689.3,1101.8 1697.2,1102.1 1720.0,1102.5 C1742.8,1102.9 1794.2,1102.9 1809.0,1103.0" stroke="#001A64"/>
<path d="M347.7,10.0 C348.4,25.0 350.2,65.0 352.0,100.0 C353.8,135.0 356.3,186.7 358.4,220.0 C360.5,253.3 362.6,270.0 364.8,300.0 C367.0,330.0 369.2,370.0 371.8,400.0 C374.4,430.0 378.1,455.0 380.6,480.0 C383.1,505.0 385.2,533.3 387.0,550.0 C388.8,566.7 390.1,570.6 391.4,580.0 C392.7,589.4 393.5,596.2 394.7,606.5 C395.9,616.8 397.5,635.0 398.3,642.0 C399.1,649.0 398.7,644.5 399.3,648.8 C399.9,653.1 401.5,663.6 402.2,668.0 C402.9,672.4 402.5,671.1 403.7,675.3 C404.9,679.5 408.1,688.2 409.3,693.0 C410.6,697.8 410.2,705.5 411.2,704.0 C412.1,702.5 413.8,689.3 415.0,684.0 C416.2,678.7 417.3,674.9 418.5,672.0 C419.7,669.1 420.6,671.1 422.0,666.5 C423.4,661.9 425.6,651.3 427.0,644.4 C428.4,637.5 429.3,632.4 430.5,625.0 C431.7,617.6 432.4,620.8 434.0,600.0 C435.6,579.2 438.1,533.3 440.2,500.0 C442.3,466.7 444.5,433.3 446.5,400.0 C448.5,366.7 450.2,333.3 452.0,300.0 C453.8,266.7 455.9,230.0 457.5,200.0 C459.1,170.0 460.4,140.8 461.7,120.0 C462.9,99.2 463.9,86.7 465.0,75.0 C466.1,63.3 467.2,55.2 468.0,50.0 C468.8,44.8 469.2,43.5 470.0,43.5 C470.8,43.5 471.5,44.8 472.5,50.0 C473.5,55.2 474.8,63.3 476.0,75.0 C477.2,86.7 478.5,99.2 479.6,120.0 C480.7,140.8 481.7,170.0 482.8,200.0 C483.9,230.0 485.4,266.7 486.5,300.0 C487.6,333.3 488.4,368.3 489.5,400.0 C490.6,431.7 491.9,456.7 493.0,490.0 C494.1,523.3 495.2,568.3 496.0,600.0 C496.8,631.7 497.6,652.2 498.0,680.0 C498.4,707.8 498.2,747.7 498.5,766.5 C498.8,785.3 499.2,785.8 499.5,793.0 C499.8,800.2 500.2,804.2 500.5,810.0 C500.8,815.8 501.1,822.0 501.5,828.0 C501.9,834.0 502.2,840.7 502.7,846.0 C503.2,851.3 503.9,855.1 504.5,860.0 C505.1,864.9 504.5,863.3 506.0,875.4 C507.5,887.5 511.1,916.8 513.4,932.7 C515.7,948.6 517.8,959.7 520.0,970.8 C522.2,981.9 524.4,992.5 526.8,999.5 C529.2,1006.5 531.1,1009.1 534.4,1012.8 C537.7,1016.4 541.5,1020.9 546.8,1021.4 C552.0,1021.9 559.5,1019.4 565.9,1015.7 C572.3,1012.1 578.6,1004.5 585.0,999.5 C591.4,994.5 598.6,990.8 604.0,986.0 C609.4,981.2 612.6,978.1 617.4,970.8 C622.2,963.5 629.3,949.0 632.7,942.2 C636.1,935.4 635.5,933.8 637.6,930.0 C639.7,926.2 642.5,922.4 645.2,919.2 C647.9,916.0 650.6,913.8 653.8,910.6 C657.0,907.4 660.9,903.3 664.5,899.9 C668.1,896.5 671.7,892.9 675.3,890.2 C678.9,887.5 683.3,885.0 686.0,883.8 C688.7,882.5 689.6,882.5 691.4,882.7 C693.2,882.9 694.1,883.7 696.8,884.8 C699.5,885.9 704.5,887.9 707.5,889.1 C710.5,890.3 711.4,892.3 715.0,891.8 C718.6,891.3 724.9,887.5 729.0,886.0 C733.1,884.5 735.3,884.0 739.8,882.7 C744.3,881.4 751.4,879.8 755.9,878.4 C760.4,877.0 762.9,875.5 766.7,874.1 C770.5,872.8 774.9,870.1 778.5,870.3 C782.1,870.5 784.6,872.4 788.2,875.2 C791.8,878.0 795.9,881.4 800.0,887.0 C804.1,892.6 808.4,902.1 812.7,908.6 C817.0,915.1 821.6,920.3 826.0,925.8 C830.4,931.3 835.5,936.2 839.2,941.7 C842.9,947.2 845.5,952.6 848.4,958.8 C851.3,965.0 854.0,972.3 856.4,978.7 C858.8,985.1 860.7,991.0 863.0,997.2 C865.3,1003.4 867.3,1008.6 870.3,1016.0 C873.3,1023.4 877.5,1034.1 881.0,1041.6 C884.5,1049.0 887.4,1054.7 891.6,1060.7 C895.9,1066.7 901.2,1073.0 906.5,1077.8 C911.8,1082.6 916.5,1086.5 923.6,1089.5 C930.7,1092.5 941.3,1094.7 949.1,1095.9 C956.9,1097.1 963.3,1096.9 970.4,1096.5 C977.5,1096.1 984.6,1094.8 991.7,1093.5 C998.8,1092.2 1005.9,1090.3 1013.0,1088.4 C1020.1,1086.5 1027.2,1084.7 1034.3,1082.0 C1041.4,1079.3 1048.5,1076.0 1055.6,1072.5 C1062.7,1069.0 1069.6,1065.6 1077.0,1060.7 C1084.4,1055.8 1092.2,1049.7 1100.0,1043.3 C1107.8,1036.9 1115.7,1029.7 1123.5,1022.2 C1131.3,1014.8 1137.9,1009.0 1147.0,998.6 C1156.1,988.2 1170.1,970.4 1177.9,960.0 C1185.7,949.6 1188.8,944.4 1194.0,936.3 C1199.2,928.2 1203.9,919.2 1208.8,911.4 C1213.7,903.6 1218.6,896.6 1223.5,889.3 C1228.4,881.9 1233.3,872.7 1238.2,867.3 C1243.1,861.9 1248.0,860.4 1252.9,857.0 C1257.8,853.6 1262.7,850.6 1267.6,846.7 C1272.5,842.8 1278.1,837.7 1282.3,833.5 C1286.5,829.3 1288.8,826.6 1292.5,821.7 C1296.2,816.8 1300.4,809.9 1304.3,804.0 C1308.2,798.1 1312.3,791.4 1316.0,786.5 C1319.7,781.6 1322.6,777.3 1326.3,774.7 C1330.0,772.1 1334.0,770.3 1338.0,771.0 C1342.0,771.7 1345.8,774.4 1350.0,779.0 C1354.2,783.6 1358.7,791.6 1363.3,798.8 C1367.9,806.0 1373.6,815.3 1377.5,822.3 C1381.4,829.3 1383.0,835.1 1386.9,841.0 C1390.8,846.9 1396.3,853.4 1401.0,857.6 C1405.7,861.8 1409.8,864.5 1415.0,866.0 C1420.2,867.5 1426.1,866.7 1431.9,866.8 C1437.7,866.9 1445.2,865.6 1449.8,866.8 C1454.4,867.9 1456.4,870.6 1459.7,873.7 C1463.0,876.8 1466.3,880.3 1469.6,885.6 C1472.9,890.9 1476.5,898.5 1479.5,905.5 C1482.5,912.5 1484.8,919.7 1487.5,927.3 C1490.2,934.9 1492.8,943.0 1495.4,951.0 C1498.0,959.0 1500.7,967.0 1503.3,975.0 C1505.9,983.0 1508.6,991.4 1511.3,998.7 C1514.0,1006.0 1516.6,1012.0 1519.2,1018.6 C1521.8,1025.2 1523.8,1032.5 1527.1,1038.4 C1530.4,1044.4 1536.3,1050.8 1539.0,1054.3 C1541.7,1057.8 1541.4,1057.1 1543.2,1059.4 C1545.0,1061.7 1547.6,1065.4 1549.8,1068.2 C1552.0,1071.0 1553.9,1073.8 1556.5,1076.1 C1559.1,1078.4 1562.4,1080.4 1565.3,1082.3 C1568.2,1084.2 1571.0,1085.2 1574.0,1087.2 C1577.0,1089.2 1580.3,1092.4 1583.0,1094.2 C1585.7,1096.0 1587.2,1097.2 1590.0,1098.2 C1592.8,1099.2 1595.7,1099.5 1600.0,1100.0 C1604.3,1100.5 1604.0,1100.8 1616.0,1101.5 C1628.0,1102.2 1639.8,1103.6 1672.0,1104.0 C1704.2,1104.4 1786.2,1104.0 1809.0,1104.0" stroke="#FF0000"/>
<path d="M342.8,10.0 C343.6,25.0 345.5,65.0 347.5,100.0 C349.5,135.0 352.9,186.7 354.9,220.0 C356.9,253.3 357.6,270.0 359.5,300.0 C361.4,330.0 364.4,370.0 366.5,400.0 C368.6,430.0 370.5,455.0 372.4,480.0 C374.3,505.0 376.4,533.3 378.0,550.0 C379.6,566.7 380.8,570.6 381.7,580.0 C382.6,589.4 382.2,599.2 383.2,606.5 C384.2,613.8 386.1,618.1 387.6,624.0 C389.1,629.9 390.5,636.1 392.0,642.0 C393.5,647.9 395.2,655.1 396.5,659.4 C397.8,663.7 398.6,665.7 400.0,668.0 C401.4,670.3 403.3,672.3 405.0,673.0 C406.7,673.7 408.8,674.3 410.3,672.0 C411.8,669.7 413.0,662.1 414.0,659.4 C415.0,656.7 415.8,657.2 416.5,656.0 C417.2,654.8 417.2,653.9 418.0,652.0 C418.8,650.1 420.4,649.1 421.5,644.4 C422.6,639.7 423.3,631.4 424.7,624.0 C426.1,616.6 426.7,620.7 430.0,600.0 C433.3,579.3 441.2,533.3 444.6,500.0 C448.0,466.7 448.2,433.3 450.5,400.0 C452.8,366.7 456.4,325.0 458.5,300.0 C460.6,275.0 461.4,265.0 463.0,250.0 C464.6,235.0 466.5,219.1 468.0,210.0 C469.5,200.9 470.8,195.5 472.2,195.5 C473.6,195.5 475.2,200.9 476.5,210.0 C477.8,219.1 479.0,235.0 480.0,250.0 C481.0,265.0 481.4,275.0 482.5,300.0 C483.6,325.0 485.0,368.3 486.3,400.0 C487.6,431.7 489.0,450.5 490.4,490.0 C491.8,529.5 493.8,603.7 494.8,637.0 C495.8,670.3 495.8,672.8 496.6,690.0 C497.4,707.2 498.7,727.2 499.4,740.0 C500.1,752.8 500.2,757.7 500.7,766.5 C501.2,775.3 502.0,785.7 502.5,793.0 C503.0,800.3 503.4,804.7 503.9,810.5 C504.4,816.3 504.9,822.1 505.4,828.0 C505.9,833.9 506.2,840.1 507.0,845.8 C507.8,851.5 509.1,857.1 510.0,862.0 C510.9,866.9 511.0,869.1 512.4,875.4 C513.8,881.7 515.3,891.1 518.2,900.0 C521.1,908.9 524.8,922.2 529.6,929.0 C534.4,935.8 540.8,940.1 546.8,941.0 C552.8,941.9 559.5,937.4 565.9,934.6 C572.3,931.8 579.3,927.5 585.0,924.0 C590.7,920.5 595.7,917.4 600.0,913.9 C604.3,910.4 606.3,907.6 610.8,903.0 C615.2,898.4 621.5,891.4 626.9,886.0 C632.3,880.6 637.6,874.9 643.0,870.9 C648.4,866.9 653.6,864.4 659.0,862.3 C664.4,860.2 669.0,859.2 675.3,858.5 C681.6,857.8 690.5,858.2 696.8,858.0 C703.1,857.8 707.6,858.3 713.0,857.4 C718.4,856.5 724.5,853.5 729.0,852.6 C733.5,851.7 736.2,851.7 739.8,852.0 C743.4,852.3 746.9,853.2 750.5,854.2 C754.1,855.2 757.7,856.8 761.3,858.0 C764.9,859.2 768.4,859.8 772.0,861.2 C775.6,862.6 779.2,864.1 782.8,866.6 C786.4,869.1 790.6,873.3 793.5,876.2 C796.4,879.1 797.9,881.3 800.0,883.8 C802.1,886.3 802.9,887.3 806.1,891.4 C809.3,895.5 814.9,903.1 819.3,908.6 C823.7,914.1 828.2,918.8 832.6,924.5 C837.0,930.2 841.8,936.6 845.8,943.0 C849.8,949.4 853.1,956.2 856.4,962.8 C859.7,969.4 862.6,976.6 865.6,982.6 C868.6,988.6 870.6,992.8 874.6,999.0 C878.6,1005.2 884.2,1014.0 889.5,1020.0 C894.8,1026.0 900.1,1031.0 906.5,1035.0 C912.9,1039.0 922.5,1041.9 927.8,1043.7 C933.1,1045.5 931.4,1046.5 938.5,1045.8 C945.6,1045.1 958.0,1043.3 970.4,1039.4 C982.8,1035.5 998.8,1029.1 1013.0,1022.4 C1027.2,1015.7 1041.4,1007.2 1055.6,999.0 C1069.8,990.8 1087.0,980.1 1098.3,973.4 C1109.6,966.7 1115.4,962.7 1123.5,958.7 C1131.6,954.7 1139.2,952.8 1147.0,949.3 C1154.8,945.8 1162.7,941.8 1170.5,937.5 C1178.3,933.2 1186.2,927.3 1194.0,923.4 C1201.8,919.5 1209.8,916.1 1217.6,914.0 C1225.4,911.9 1233.2,911.7 1241.0,910.5 C1248.8,909.3 1256.8,909.2 1264.6,907.0 C1272.4,904.8 1281.3,900.5 1288.0,897.5 C1294.7,894.5 1299.5,891.0 1304.6,889.3 C1309.7,887.5 1313.6,886.8 1318.7,887.0 C1323.8,887.2 1328.3,887.2 1335.0,890.5 C1341.7,893.8 1350.7,900.7 1358.6,907.0 C1366.5,913.3 1375.1,922.8 1382.2,928.1 C1389.3,933.4 1394.0,936.5 1401.0,938.7 C1408.0,940.9 1418.0,940.4 1424.5,941.5 C1431.0,942.6 1435.6,943.3 1439.8,945.2 C1444.0,947.1 1446.5,949.7 1449.8,953.0 C1453.1,956.3 1456.4,960.4 1459.7,965.0 C1463.0,969.6 1466.3,975.6 1469.6,980.9 C1472.9,986.2 1476.2,991.4 1479.5,996.7 C1482.8,1002.0 1486.1,1007.6 1489.4,1012.6 C1492.7,1017.6 1496.1,1022.2 1499.4,1026.5 C1502.7,1030.8 1506.0,1034.7 1509.3,1038.4 C1512.6,1042.2 1514.2,1045.4 1519.2,1049.0 C1524.2,1052.6 1532.4,1056.8 1539.0,1060.0 C1545.6,1063.2 1552.3,1065.4 1558.9,1068.2 C1565.5,1071.0 1572.1,1074.5 1578.7,1077.1 C1585.3,1079.7 1592.0,1082.0 1598.6,1084.0 C1605.2,1086.0 1615.5,1088.3 1618.4,1089.0 C1621.3,1089.7 1607.1,1087.4 1616.0,1088.0 C1624.9,1088.6 1654.7,1091.5 1672.0,1092.5 C1689.3,1093.5 1697.2,1093.7 1720.0,1094.0 C1742.8,1094.3 1794.2,1094.4 1809.0,1094.5" stroke="#00B050"/>
</g>
<line x1="1233.5" y1="48.5" x2="1393.5" y2="48.5" stroke="#000000" stroke-width="5" stroke-linecap="round"/>
<text x="1409" y="68.0" font-family="Liberation Sans, Arial, sans-serif" font-size="58.5">:</text>
<text transform="translate(1444,68.0) scale(1.07,1)" font-family="Liberation Sans, Arial, sans-serif" font-size="57" font-weight="bold">8</text>
<line x1="1233.5" y1="119.5" x2="1393.5" y2="119.5" stroke="#802AA6" stroke-width="5" stroke-linecap="round"/>
<text x="1409" y="139.4" font-family="Liberation Sans, Arial, sans-serif" font-size="58.5">:</text>
<text transform="translate(1444,139.4) scale(1.07,1)" font-family="Liberation Sans, Arial, sans-serif" font-size="57" font-weight="bold">8</text>
<text x="1495" y="139.4" font-family="Liberation Sans, Arial, sans-serif" font-size="58.5">+</text>
<text x="1545" y="139.4" font-family="Liberation Sans, Arial, sans-serif" font-size="58.5">PF</text>
<text x="1620" y="147.9" font-family="DejaVu Serif, Liberation Serif, serif" font-size="34">6</text>
<text x="1642" y="139.4" font-family="Liberation Sans, Arial, sans-serif" font-size="58.5">-</text>
<line x1="1233.5" y1="191.5" x2="1393.5" y2="191.5" stroke="#00B0F0" stroke-width="5" stroke-linecap="round"/>
<text x="1409" y="210.9" font-family="Liberation Sans, Arial, sans-serif" font-size="58.5">:</text>
<text transform="translate(1444,210.9) scale(1.07,1)" font-family="Liberation Sans, Arial, sans-serif" font-size="57" font-weight="bold">8</text>
<text x="1495" y="210.9" font-family="Liberation Sans, Arial, sans-serif" font-size="58.5">+</text>
<text x="1545" y="210.9" font-family="Liberation Sans, Arial, sans-serif" font-size="58.5">HSO</text>
<text x="1672" y="219.4" font-family="DejaVu Serif, Liberation Serif, serif" font-size="34">4</text>
<text x="1696" y="189.3" font-family="Liberation Sans, Arial, sans-serif" font-size="38">&#8722;</text>
<line x1="1233.5" y1="262.5" x2="1393.5" y2="262.5" stroke="#00FF00" stroke-width="5" stroke-linecap="round"/>
<text x="1409" y="282.4" font-family="Liberation Sans, Arial, sans-serif" font-size="58.5">:</text>
<text transform="translate(1444,282.4) scale(1.07,1)" font-family="Liberation Sans, Arial, sans-serif" font-size="57" font-weight="bold">8</text>
<text x="1495" y="282.4" font-family="Liberation Sans, Arial, sans-serif" font-size="58.5">+</text>
<text x="1545" y="282.4" font-family="Liberation Sans, Arial, sans-serif" font-size="58.5">Cl</text>
<text x="1601" y="260.8" font-family="Liberation Sans, Arial, sans-serif" font-size="38">&#8722;</text>
<line x1="1233.5" y1="334.5" x2="1393.5" y2="334.5" stroke="#FFC000" stroke-width="5" stroke-linecap="round"/>
<text x="1409" y="353.8" font-family="Liberation Sans, Arial, sans-serif" font-size="58.5">:</text>
<text transform="translate(1444,353.8) scale(1.07,1)" font-family="Liberation Sans, Arial, sans-serif" font-size="57" font-weight="bold">8</text>
<text x="1495" y="353.8" font-family="Liberation Sans, Arial, sans-serif" font-size="58.5">+</text>
<text x="1545" y="353.8" font-family="Liberation Sans, Arial, sans-serif" font-size="58.5">Br</text>
<text x="1605" y="332.2" font-family="Liberation Sans, Arial, sans-serif" font-size="38">&#8722;</text>
<line x1="1233.5" y1="405.5" x2="1393.5" y2="405.5" stroke="#001A64" stroke-width="5" stroke-linecap="round"/>
<text x="1409" y="425.2" font-family="Liberation Sans, Arial, sans-serif" font-size="58.5">:</text>
<text transform="translate(1444,425.2) scale(1.07,1)" font-family="Liberation Sans, Arial, sans-serif" font-size="57" font-weight="bold">8</text>
<text x="1495" y="425.2" font-family="Liberation Sans, Arial, sans-serif" font-size="58.5">+</text>
<text x="1545" y="425.2" font-family="Liberation Sans, Arial, sans-serif" font-size="58.5">NO</text>
<text x="1633" y="433.8" font-family="Liberation Sans, Arial, sans-serif" font-size="36">2</text>
<text x="1657" y="403.6" font-family="Liberation Sans, Arial, sans-serif" font-size="38">&#8722;</text>
<line x1="1233.5" y1="477.5" x2="1393.5" y2="477.5" stroke="#FF0000" stroke-width="5" stroke-linecap="round"/>
<text x="1409" y="496.7" font-family="Liberation Sans, Arial, sans-serif" font-size="58.5">:</text>
<text transform="translate(1444,496.7) scale(1.07,1)" font-family="Liberation Sans, Arial, sans-serif" font-size="57" font-weight="bold">8</text>
<text x="1495" y="496.7" font-family="Liberation Sans, Arial, sans-serif" font-size="58.5">+</text>
<text x="1545" y="496.7" font-family="Liberation Sans, Arial, sans-serif" font-size="58.5">CH</text>
<text x="1629.5" y="505.2" font-family="DejaVu Serif, Liberation Serif, serif" font-size="34">3</text>
<text x="1653.5" y="496.7" font-family="Liberation Sans, Arial, sans-serif" font-size="58.5">CO</text>
<text x="1741" y="505.2" font-family="Liberation Sans, Arial, sans-serif" font-size="36">2</text>
<text x="1765" y="475.1" font-family="Liberation Sans, Arial, sans-serif" font-size="38">&#8722;</text>
<line x1="1233.5" y1="548.5" x2="1393.5" y2="548.5" stroke="#00B050" stroke-width="5" stroke-linecap="round"/>
<text x="1409" y="568.2" font-family="Liberation Sans, Arial, sans-serif" font-size="58.5">:</text>
<text transform="translate(1444,568.2) scale(1.07,1)" font-family="Liberation Sans, Arial, sans-serif" font-size="57" font-weight="bold">8</text>
<text x="1495" y="568.2" font-family="Liberation Sans, Arial, sans-serif" font-size="58.5">+</text>
<text x="1545" y="568.2" font-family="Liberation Sans, Arial, sans-serif" font-size="58.5">CN</text>
<text x="1630" y="546.6" font-family="Liberation Sans, Arial, sans-serif" font-size="38">&#8722;</text>
</svg>
</body></html>
